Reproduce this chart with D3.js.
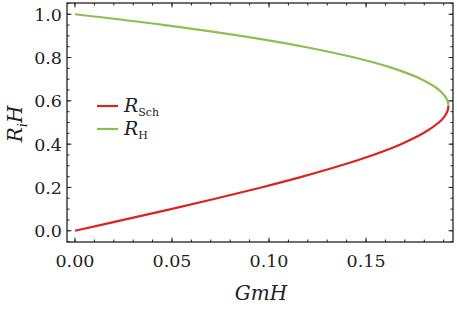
<!DOCTYPE html>
<html>
<head>
<meta charset="utf-8">
<script src="https://cdn.jsdelivr.net/npm/d3@7"></script>
<style>
body { margin: 0; background: #fff; }
svg text { font-family: "DejaVu Serif", serif; fill: #222; }
</style>
</head>
<body>
<svg id="chart" width="457" height="311"></svg>
<script>
// values: horizon radius R_i H vs GmH
var schR   = [0, 0.05, 0.1, 0.15, 0.2, 0.25, 0.3, 0.35, 0.4, 0.45, 0.5, 0.525, 0.55, 0.56, 0.5774];
var schGmH = [0, 0.0249, 0.0495, 0.0733, 0.096, 0.1172, 0.1365, 0.1536, 0.168, 0.1794, 0.1875, 0.1902, 0.1918, 0.1922, 0.19245];
var hR     = [0.5774, 0.59, 0.6, 0.62, 0.65, 0.7, 0.75, 0.8, 0.85, 0.9, 0.95, 1.0];
var hGmH   = [0.19245, 0.1923, 0.192, 0.1908, 0.1877, 0.1785, 0.1641, 0.144, 0.1179, 0.0855, 0.0463, 0];
var xTicks = [0, 0.05, 0.1, 0.15];
var yTicks = [0, 0.2, 0.4, 0.6, 0.8, 1.0];
var legendLabels = [["R", "Sch"], ["R", "H"]];

var red = "#dd2222", green = "#8cbf4e";

var svg = d3.select("#chart");
var pLeft = 67, pRight = 453, pTop = 3, pBottom = 242;

var x = d3.scaleLinear().domain([-0.0041, 0.1948]).range([pLeft, pRight]);
var y = d3.scaleLinear().domain([-0.052, 1.052]).range([pBottom, pTop]);

// lines
var line = d3.line()
    .x(function(d) { return x(d[0]); })
    .y(function(d) { return y(d[1]); })
    .curve(d3.curveCatmullRom);

var sch = schR.map(function(r, i) { return [schGmH[i], r]; });
var hor = hR.map(function(r, i) { return [hGmH[i], r]; });

svg.append("path").attr("d", line(sch)).attr("fill", "none")
    .attr("stroke", red).attr("stroke-width", 2.2);
svg.append("path").attr("d", line(hor)).attr("fill", "none")
    .attr("stroke", green).attr("stroke-width", 2.2);

// frame with inward ticks on all sides
var g = svg.append("g");
var xMinor = d3.range(0, 0.195, 0.01);
var yMinor = d3.range(-0.05, 1.06, 0.05);

function tickX(v, len) {
    g.append("line").attr("x1", x(v)).attr("x2", x(v))
        .attr("y1", pBottom).attr("y2", pBottom - len).attr("stroke", "#222");
    g.append("line").attr("x1", x(v)).attr("x2", x(v))
        .attr("y1", pTop).attr("y2", pTop + len).attr("stroke", "#222");
}
function tickY(v, len) {
    g.append("line").attr("y1", y(v)).attr("y2", y(v))
        .attr("x1", pLeft).attr("x2", pLeft + len).attr("stroke", "#222");
    g.append("line").attr("y1", y(v)).attr("y2", y(v))
        .attr("x1", pRight).attr("x2", pRight - len).attr("stroke", "#222");
}
xMinor.forEach(function(v) { tickX(v, 2.5); });
xTicks.forEach(function(v) { tickX(v, 4.5); });
yMinor.forEach(function(v) { tickY(v, 2.5); });
yTicks.forEach(function(v) { tickY(v, 4.5); });

g.append("rect").attr("x", pLeft).attr("y", pTop)
    .attr("width", pRight - pLeft).attr("height", pBottom - pTop)
    .attr("fill", "none").attr("stroke", "#222").attr("stroke-width", 1.3);

// tick labels
xTicks.forEach(function(v) {
    g.append("text").attr("x", x(v)).attr("y", pBottom + 25)
        .attr("text-anchor", "middle").attr("font-size", 17.5)
        .text(v.toFixed(2));
});
yTicks.forEach(function(v) {
    g.append("text").attr("x", pLeft - 5).attr("y", y(v) + 6.5)
        .attr("text-anchor", "end").attr("font-size", 17.5)
        .text(v.toFixed(1));
});

// axis titles
var xt = svg.append("text").attr("x", 261).attr("y", 300)
    .attr("text-anchor", "middle").attr("font-size", 20).attr("font-style", "italic");
xt.text("GmH");

var yt = svg.append("text").attr("transform", "translate(22,124) rotate(-90)")
    .attr("text-anchor", "middle").attr("font-size", 20).attr("font-style", "italic");
yt.append("tspan").text("R");
yt.append("tspan").attr("font-size", 13).attr("dy", 5).text("i");
yt.append("tspan").attr("dy", -5).text("H");

// legend
var legColors = [red, green];
legendLabels.forEach(function(lab, i) {
    var ly = 106 + i * 23;
    svg.append("line").attr("x1", 97).attr("x2", 118).attr("y1", ly).attr("y2", ly)
        .attr("stroke", legColors[i]).attr("stroke-width", 2.2);
    var t = svg.append("text").attr("x", 124).attr("y", ly + 6).attr("font-size", 19);
    t.append("tspan").attr("font-style", "italic").text(lab[0]);
    t.append("tspan").attr("font-size", 11).attr("dy", 4).text(lab[1]);
});
</script>
</body>
</html>
